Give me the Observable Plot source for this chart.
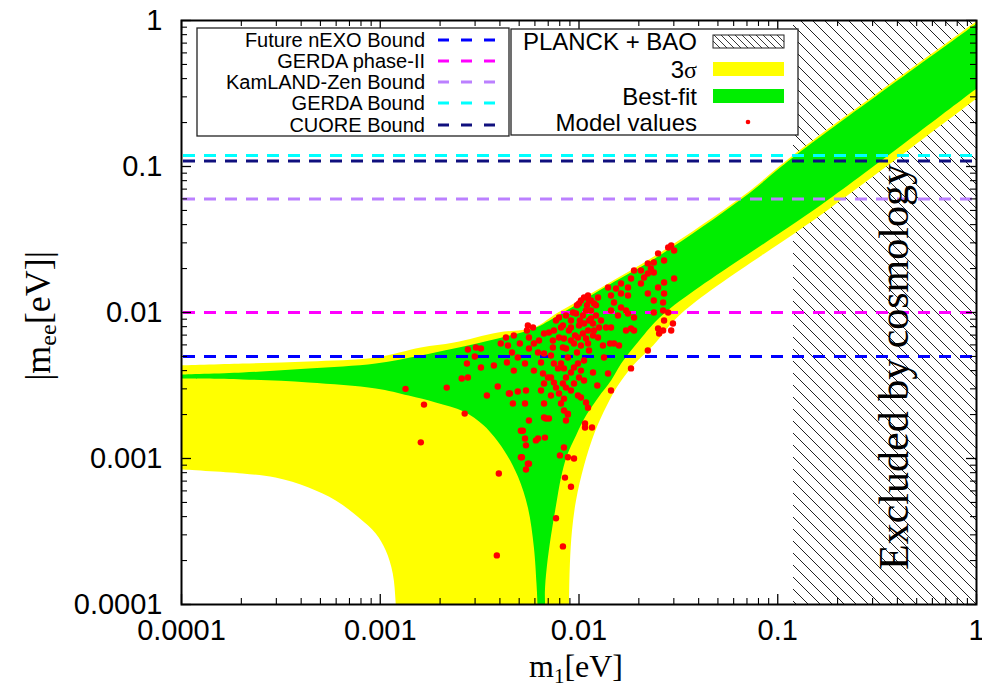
<!DOCTYPE html>
<html><head><meta charset="utf-8">
<script src="https://cdn.jsdelivr.net/npm/d3@7"></script>
<script src="https://cdn.jsdelivr.net/npm/@observablehq/plot@0.6"></script>
<style>
html,body{margin:0;padding:0;background:#fff;}
#chart svg{display:block;}
</style></head><body><div id="chart"></div>
<script>
// ---------------- data ----------------
const xTicks = [1e-4, 1e-3, 1e-2, 1e-1, 1];
const xTickLabels = ["0.0001", "0.001", "0.01", "0.1", "1"];
const yTicks = [1e-4, 1e-3, 1e-2, 1e-1, 1];
const yTickLabels = ["0.0001", "0.001", "0.01", "0.1", "1"];

// 3 sigma region outline (m1, |m_ee|) in eV
const sigma3M1 = [1e-4, 2.03e-4, 4.36e-4, 9.49e-4, 1.6e-3, 2.35e-3, 3.91e-3, 5.93e-3, 7.84e-3, 1.29e-2, 2.59e-2, 0.067, 0.12, 1.0, 1.2,
  1.2, 1.0, 0.18, 3.27e-2, 2.36e-2, 1.87e-2, 1.57e-2, 1.38e-2, 1.2e-2, 1.06e-2, 9.66e-3, 9.22e-3, 9.0e-3, 8.9e-3, 8.9e-3,
  1.225e-3, 1.197e-3, 1.156e-3, 1.066e-3, 9.49e-4, 7.79e-4, 5.97e-4, 4.36e-4, 2.97e-4, 2.03e-4, 1e-4];
const sigma3Mee = [4.34e-3, 4.47e-3, 4.62e-3, 4.92e-3, 5.76e-3, 6.23e-3, 7.3e-3, 7.89e-3, 1.0e-2, 1.48e-2, 2.6e-2, 0.063, 0.12, 0.99, 1.19,
  0.35, 0.292, 0.0508, 9.84e-3, 5.94e-3, 4.34e-3, 3.16e-3, 2.31e-3, 1.51e-3, 8.95e-4, 5.16e-4, 3.21e-4, 1.91e-4, 1e-4, 5e-5,
  5e-5, 1e-4, 1.63e-4, 2.34e-4, 3.06e-4, 3.94e-4, 5.16e-4, 6.33e-4, 7.41e-4, 7.9e-4, 8.41e-4];

// best-fit region outline
const bestM1 = [1e-4, 2.03e-4, 4.36e-4, 9.49e-4, 1.6e-3, 2.35e-3, 3.91e-3, 5.93e-3, 7.84e-3, 1.29e-2, 2.59e-2, 0.067, 0.12, 1.0, 1.2,
  1.2, 1.0, 0.18, 2.68e-2, 2.01e-2, 1.63e-2, 1.45e-2, 1.25e-2, 1.085e-2, 9.66e-3, 8.7e-3, 8.12e-3, 7.66e-3, 7.23e-3, 6.9e-3, 6.74e-3, 6.66e-3,
  6.22e-3, 6.18e-3, 6.11e-3, 5.93e-3, 5.53e-3, 4.93e-3, 4.19e-3, 3.32e-3, 2.63e-3, 1.9e-3, 1.39e-3, 9.49e-4, 4.36e-4, 2.03e-4, 1e-4];
const bestMee = [3.76e-3, 3.88e-3, 4.13e-3, 4.47e-3, 5.08e-3, 5.67e-3, 6.64e-3, 7.77e-3, 9.54e-3, 1.44e-2, 2.5e-2, 0.061, 0.116, 0.955, 1.15,
  0.41, 0.342, 0.0594, 9.84e-3, 6.43e-3, 4.47e-3, 3.42e-3, 2.62e-3, 1.97e-3, 1.44e-3, 1.05e-3, 7.41e-4, 4.76e-4, 2.97e-4, 1.85e-4, 1.25e-4, 5e-5,
  5e-5, 1e-4, 1.39e-4, 2.46e-4, 4.62e-4, 7.53e-4, 1.14e-3, 1.68e-3, 2.1e-3, 2.42e-3, 2.7e-3, 3.02e-3, 3.32e-3, 3.48e-3, 3.53e-3];

// model values (scatter)
const modelM1 = [0.00134,0.00166,0.0016,0.00216,0.00266,0.00395,0.00386,0.00276,0.00257,0.00276,0.00303,0.00321,0.00299,0.00321,0.00273,0.00344,0.0039,0.00373,0.00429,0.00404,
0.00439,0.0047,0.00504,0.0046,0.00434,0.0047,0.00492,0.00535,0.00444,0.00465,0.00492,0.00541,0.00535,0.00522,0.00535,0.00516,0.00541,0.0056,0.00547,0.00553,
0.00587,0.0056,0.00593,0.0056,0.00629,0.00667,0.00622,0.00667,0.00644,0.00593,0.00659,0.00698,0.00667,0.00644,0.00667,0.00667,0.00682,0.00622,0.00607,0.00674,
0.00723,0.00723,0.00723,0.00748,0.00766,0.00748,0.00784,0.00739,0.00739,0.00706,0.00748,0.00766,0.00793,0.00812,0.00793,0.0084,0.0086,0.0083,0.00879,0.00812,
0.0084,0.0086,0.0083,0.00793,0.0084,0.00812,0.0084,0.00879,0.0086,0.00911,0.00944,0.00911,0.00944,0.00988,0.01023,0.01,0.0106,0.00988,0.01023,0.0111,
0.01072,0.01072,0.01163,0.00911,0.00911,0.00966,0.01023,0.0106,0.0111,0.01123,0.01085,0.01149,0.0101,0.0106,0.01123,0.01176,0.0119,0.0111,0.01047,0.00988,
0.00944,0.01023,0.0111,0.01246,0.01261,0.01246,0.01368,0.01449,0.0132,0.01433,0.01336,0.015,0.0159,0.01724,0.01827,0.01892,0.014,0.01449,0.01827,0.0222,
0.025,0.0253,0.0265,0.0297,0.0291,0.0268,0.0265,0.0281,0.0238,0.0238,0.0265,0.0268,0.0222,0.025,0.0205,0.0222,0.01892,0.01827,0.01764,0.01627,
0.01536,0.01627,0.01764,0.014,0.01449,0.015,0.01627,0.01449,0.01571,0.01764,0.01892,0.02125,0.0222,0.023,0.0238,0.025,0.0268,0.0281,0.0291,0.0301,
0.0301,0.0268,0.0238,0.0205,0.01724,0.0051,0.00541,0.0051,0.00553,0.0084,0.00802,0.00879,0.00944,0.0085,0.00911,0.00766,0.0083,0.01085,0.0086,0.00879,
0.00706,0.0056,0.00449,0.00977,0.01047,0.01097,0.01149,0.01,0.00955,0.01085,0.01176,0.01218,0.01,0.01149,0.0119,0.00933,0.0089,0.01218,0.0129,0.00911,
0.01123,0.00977,0.0106,0.01176,0.01236,0.0086,0.0083];
const modelMee = [0.003,0.00234,0.00129,0.00306,0.00203,0.00079,0.000217,0.00359,0.00353,0.00558,0.00576,0.00567,0.005,0.0042,0.00447,0.0027,0.00311,0.00434,0.00674,0.00613,
0.00594,0.00696,0.00613,0.00532,0.00455,0.004,0.00492,0.00447,0.00279,0.00238,0.00288,0.00292,0.00238,0.00155,0.00137,0.00102,0.00084,0.00092,0.00753,0.00815,
0.00789,0.00674,0.00613,0.00567,0.00643,0.00718,0.00532,0.00524,0.00455,0.004,0.00382,0.00359,0.00326,0.00292,0.00238,0.00191,0.00188,0.00137,0.00133,0.00139,
0.00508,0.00359,0.0027,0.00331,0.00306,0.00447,0.00414,0.00576,0.00643,0.0073,0.00753,0.00882,0.00924,0.00789,0.00674,0.00664,0.00567,0.00576,0.00492,0.00447,
0.00414,0.00359,0.00326,0.00279,0.00257,0.00238,0.00213,0.002,0.00306,0.00292,0.00326,0.00388,0.0042,0.00447,0.004,0.00359,0.00342,0.0027,0.00262,0.00223,
0.00174,0.00163,0.00163,0.00882,0.00789,0.00984,0.01208,0.01267,0.01307,0.01208,0.01032,0.01032,0.00882,0.0084,0.00882,0.0084,0.00753,0.00753,0.00718,0.00674,
0.00613,0.00594,0.00613,0.01267,0.00789,0.00674,0.00789,0.00789,0.00594,0.00613,0.00492,0.00613,0.00594,0.00753,0.00777,0.00753,0.00382,0.00292,0.00414,0.00549,
0.00777,0.00718,0.00753,0.0084,0.00753,0.00882,0.01032,0.01,0.01,0.01208,0.01171,0.0135,0.0135,0.01484,0.0158,0.0185,0.0194,0.0171,0.01484,0.0158,
0.0146,0.0135,0.01307,0.01484,0.01307,0.01171,0.01082,0.01032,0.00954,0.00984,0.00924,0.01737,0.0217,0.02,0.022,0.0254,0.0227,0.0279,0.0288,0.0266,
0.0171,0.01605,0.01879,0.0194,0.01032,0.00155,0.00123,0.00102,0.00092,0.00119,0.00105,0.00102,0.001,0.00074,0.00064,0.00039,0.00025,0.00242,0.00182,0.00203,
0.00188,0.00182,0.00279,0.0112,0.00954,0.0112,0.0091,0.00815,0.00696,0.00664,0.00696,0.00954,0.01152,0.01208,0.01152,0.01,0.00753,0.0112,0.00882,0.00643,
0.00549,0.00532,0.00469,0.00388,0.00316,0.00954,0.00815];

// experimental bounds (horizontal dashed lines)
const boundNames = ["Future nEXO Bound", "GERDA phase-II", "KamLAND-Zen Bound", "GERDA Bound", "CUORE Bound"];
const boundValues = [0.005, 0.01, 0.06, 0.119, 0.109];
const boundColors = ["#0000ff", "#ff00ff", "#bb80ff", "#00ffff", "#10107e"];

// cosmology exclusion (PLANCK + BAO)
const planckM1 = [0.12, 1];

// ---------------- chart ----------------
const W = 982, H = 689, mL = 181, mR = 6, mT = 20, mB = 85;
const innerW = W - mL - mR, innerH = H - mT - mB;
const YELLOW = "#ffff00", GREEN = "#00ee00", RED = "#ff0000";
const DASH = "12,9";

const sigma3 = sigma3M1.map((m, i) => ({m1: m, mee: sigma3Mee[i]}));
const best = bestM1.map((m, i) => ({m1: m, mee: bestMee[i]}));
const model = modelM1.map((m, i) => ({m1: m, mee: modelMee[i]}));
const bounds = boundNames.map((n, i) => ({name: n, value: boundValues[i], color: boundColors[i]}));
const planck = [{lo: planckM1[0], hi: planckM1[1], bottom: yTicks[0], top: yTicks[yTicks.length - 1]}];

const minor = [];
for (const p of [1e-4, 1e-3, 1e-2, 1e-1]) for (let k = 2; k <= 9; k++) minor.push(k * p);

const chart = Plot.plot({
  width: W, height: H,
  marginLeft: mL, marginRight: mR, marginTop: mT, marginBottom: mB,
  x: {type: "log", domain: [1e-4, 1]},
  y: {type: "log", domain: [1e-4, 1]},
  color: {type: "identity"},
  style: {fontFamily: "'Liberation Sans', Arial, Helvetica, sans-serif", color: "black", background: "white", overflow: "visible"},
  marks: [
    Plot.rect(planck, {x1: "lo", x2: "hi", y1: "bottom", y2: "top", fill: "url(#hatch)"}),
    Plot.line(sigma3, {x: "m1", y: "mee", fill: YELLOW, stroke: "none", curve: "catmull-rom", clip: true}),
    Plot.line(best, {x: "m1", y: "mee", fill: GREEN, stroke: "none", curve: "catmull-rom", clip: true}),
    Plot.ruleY(bounds, {y: "value", stroke: "color", strokeWidth: 3, strokeDasharray: DASH, insetLeft: 2, insetRight: 2}),
    Plot.dot(model, {x: "m1", y: "mee", r: 3.2, fill: RED, stroke: "none", clip: true}),
    // inside ticks (gnuplot style) on all four sides
    Plot.tickX(xTicks, {x: d => d, insetTop: innerH - 10, stroke: "black", strokeWidth: 1.3}),
    Plot.tickX(minor, {x: d => d, insetTop: innerH - 6, stroke: "black", strokeWidth: 1.1}),
    Plot.tickX(xTicks, {x: d => d, insetBottom: innerH - 10, stroke: "black", strokeWidth: 1.3}),
    Plot.tickX(minor, {x: d => d, insetBottom: innerH - 6, stroke: "black", strokeWidth: 1.1}),
    Plot.tickY(yTicks, {y: d => d, insetRight: innerW - 10, stroke: "black", strokeWidth: 1.3}),
    Plot.tickY(minor, {y: d => d, insetRight: innerW - 6, stroke: "black", strokeWidth: 1.1}),
    Plot.tickY(yTicks, {y: d => d, insetLeft: innerW - 10, stroke: "black", strokeWidth: 1.3}),
    Plot.tickY(minor, {y: d => d, insetLeft: innerW - 6, stroke: "black", strokeWidth: 1.1}),
    Plot.axisX(xTicks, {tickFormat: d => xTickLabels[xTicks.indexOf(d)], tickSize: 0, tickPadding: 15, fontSize: 29, label: null}),
    Plot.axisY(yTicks, {tickFormat: d => yTickLabels[yTicks.indexOf(d)], tickSize: 0, tickPadding: 19, fontSize: 29, label: null}),
    Plot.frame({stroke: "black", strokeWidth: 2})
  ]
});
document.getElementById("chart").appendChild(chart);

const svg = d3.select(chart);
const defs = svg.insert("defs", ":first-child");
function hatch(id, s, w) {
  const p = defs.append("pattern").attr("id", id).attr("patternUnits", "userSpaceOnUse").attr("width", s).attr("height", s);
  p.append("path").attr("d", `M0,0L${s},${s}M-3,${s - 3}L3,${s + 3}M${s - 3},-3L${s + 3},3`)
    .attr("stroke", "#222").attr("stroke-width", w).attr("fill", "none");
}
hatch("hatch", 12, 1);
hatch("hatch2", 7, 0.9);

const SERIF = "'Liberation Serif', 'Times New Roman', Times, serif";
const SANS = "'Liberation Sans', Arial, Helvetica, sans-serif";

// cosmology label
svg.append("text").attr("transform", "translate(908,367) rotate(-90)")
  .attr("text-anchor", "middle").attr("font-family", SERIF).attr("font-size", 42).attr("fill", "black")
  .text("Excluded by cosmology");

// axis titles
const xt = svg.append("text").attr("x", 576).attr("y", 677).attr("text-anchor", "middle")
  .attr("font-family", SERIF).attr("font-size", 32).attr("fill", "black");
xt.append("tspan").text("m");
xt.append("tspan").attr("font-size", 21).attr("dy", 6).text("1");
xt.append("tspan").attr("dy", -6).text("[eV]");

const yt = svg.append("text").attr("transform", "translate(50,316) rotate(-90)").attr("text-anchor", "middle")
  .attr("font-family", SERIF).attr("font-size", 36).attr("fill", "black");
yt.append("tspan").text("|m");
yt.append("tspan").attr("font-size", 24).attr("dy", 6).text("ee");
yt.append("tspan").attr("dy", -6).text("[eV]|");

// legend 1: bounds
const lg1 = svg.append("g");
lg1.append("rect").attr("x", 197).attr("y", 28).attr("width", 312).attr("height", 108)
  .attr("fill", "white").attr("stroke", "#222").attr("stroke-width", 1.3);
const rowY1 = [40, 61, 82, 103, 125];
bounds.forEach((b, i) => {
  lg1.append("text").attr("x", 425).attr("y", rowY1[i]).attr("dy", "0.36em").attr("text-anchor", "end")
    .attr("font-family", SANS).attr("font-size", 20).attr("fill", "black").text(b.name);
  lg1.append("line").attr("x1", 438).attr("x2", 496).attr("y1", rowY1[i]).attr("y2", rowY1[i])
    .attr("stroke", b.color).attr("stroke-width", 3).attr("stroke-dasharray", "11,12");
});

// legend 2: regions
const lg2 = svg.append("g");
lg2.append("rect").attr("x", 511).attr("y", 29).attr("width", 287).attr("height", 106)
  .attr("fill", "white").attr("stroke", "#222").attr("stroke-width", 1.3);
const rowY2 = [41, 69, 96, 122];
const l2labels = ["PLANCK + BAO", null, "Best-fit", "Model values"];
rowY2.forEach((y, i) => {
  const t = lg2.append("text").attr("x", 697).attr("y", y).attr("dy", "0.36em").attr("text-anchor", "end")
    .attr("font-family", SANS).attr("font-size", 24).attr("fill", "black");
  if (i === 1) { t.append("tspan").text("3"); t.append("tspan").attr("font-family", SERIF).text("σ"); }
  else t.text(l2labels[i]);
});
lg2.append("rect").attr("x", 713).attr("y", 35).attr("width", 71).attr("height", 13)
  .attr("fill", "url(#hatch2)").attr("stroke", "#222").attr("stroke-width", 1);
lg2.append("rect").attr("x", 713).attr("y", 62).attr("width", 71).attr("height", 14).attr("fill", YELLOW);
lg2.append("rect").attr("x", 713).attr("y", 89).attr("width", 71).attr("height", 14).attr("fill", GREEN);
lg2.append("circle").attr("cx", 748).attr("cy", 122).attr("r", 2.3).attr("fill", RED);
</script></body></html>
